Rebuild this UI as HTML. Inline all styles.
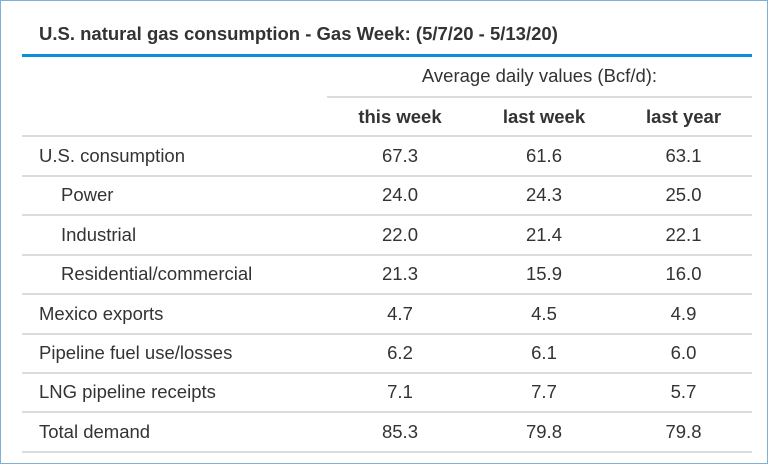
<!DOCTYPE html>
<html><head><meta charset="utf-8"><style>
body{margin:0;width:768px;height:464px;background:#fff;font-family:"Liberation Sans",sans-serif;color:#333;position:relative;overflow:hidden}
.frame{position:absolute;left:0;top:0;width:766px;height:462px;border:1px solid #7fb0d8}
.t{position:absolute;white-space:nowrap;font-size:18.5px;line-height:21px}
.c{position:absolute;text-align:center;font-size:18.5px;line-height:21px}
.hl{position:absolute;height:2px;background:#dcdcdc}
</style></head><body>
<div class="frame"></div>
<div class="t" style="left:39px;top:23px;font-weight:bold">U.S. natural gas consumption - Gas Week: (5/7/20 - 5/13/20)</div>
<div style="position:absolute;left:22px;top:54px;width:730px;height:3px;background:#0a8fd8"></div>
<div class="c" style="left:327px;width:425px;top:65px">Average daily values (Bcf/d):</div>
<div class="hl" style="left:327px;width:425px;top:96px"></div>
<div class="c" style="left:327px;width:146px;top:106px;font-weight:bold">this week</div>
<div class="c" style="left:473px;width:142px;top:106px;font-weight:bold">last week</div>
<div class="c" style="left:615px;width:137px;top:106px;font-weight:bold">last year</div>
<div class="hl" style="left:22px;width:730px;top:135px"></div>
<div id="rows"></div>
<script>
const labels=["U.S. consumption","Power","Industrial","Residential/commercial","Mexico exports","Pipeline fuel use/losses","LNG pipeline receipts","Total demand"];
const indent=[0,1,1,1,0,0,0,0];
const thisWeek=["67.3","24.0","22.0","21.3","4.7","6.2","7.1","85.3"];
const lastWeek=["61.6","24.3","21.4","15.9","4.5","6.1","7.7","79.8"];
const lastYear=["63.1","25.0","22.1","16.0","4.9","6.0","5.7","79.8"];
const root=document.getElementById('rows');
const cols=[[327,146,thisWeek],[473,142,lastWeek],[615,137,lastYear]];
labels.forEach((l,i)=>{
  const top=145+i*39.4;
  const d=document.createElement('div');d.className='t';
  
  
  d.style.left=(indent[i]?61:39)+'px';d.style.top=top+'px';d.textContent=l;root.appendChild(d);
  cols.forEach(c=>{
    const v=document.createElement('div');v.className='c';
    
    
    v.style.left=c[0]+'px';v.style.width=c[1]+'px';v.style.top=top+'px';v.textContent=c[2][i];root.appendChild(v);
  });
  const h=document.createElement('div');h.className='hl';
  
  
  h.style.left='22px';h.style.width='730px';h.style.top=(175+i*39.4)+'px';root.appendChild(h);
});
</script>
</body></html>
